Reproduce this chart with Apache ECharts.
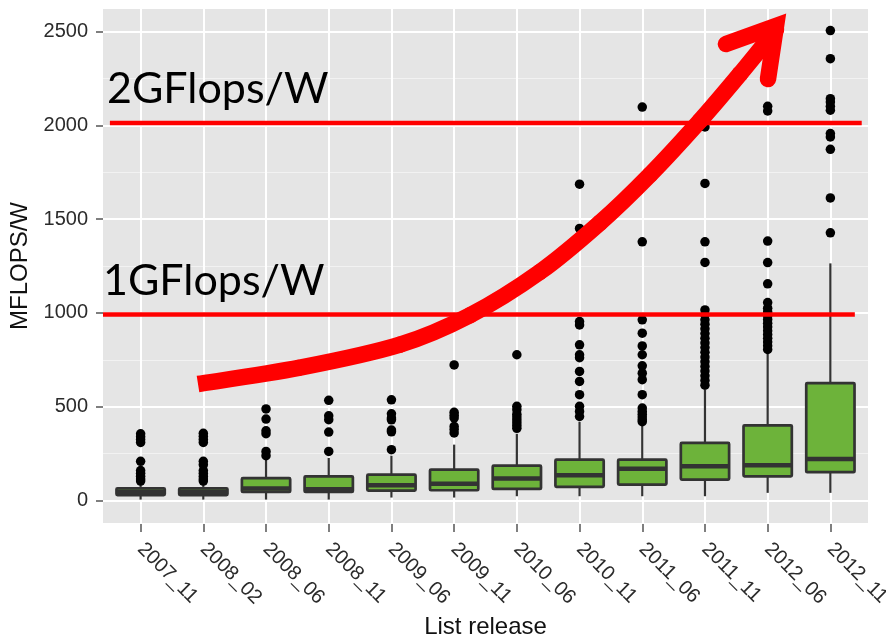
<!DOCTYPE html>
<html><head><meta charset="utf-8">
<script src="https://cdn.jsdelivr.net/npm/echarts/dist/echarts.min.js"></script>
<style>html,body{margin:0;padding:0;background:#fff}#c{width:886px;height:635px}</style>
</head><body><div id="c"></div>
<script>
// ---- data ----
const categories = ['2007_11','2008_02','2008_06','2008_11','2009_06','2009_11','2010_06','2010_11','2011_06','2011_11','2012_06','2012_11'];
const whiskerLow  = [5, 5, 5, 5, 16, 16, 23, 23, 23, 23, 41, 41];
const q1          = [29, 29, 46, 46, 53, 55, 62, 73, 85, 112, 129, 151];
const median      = [45, 45, 64, 60, 81, 90, 117, 135, 169, 183, 188, 222];
const q3          = [65, 65, 119, 129, 138, 165, 186, 218, 218, 307, 401, 626];
const whiskerHigh = [94, 94, 218, 227, 239, 298, 356, 420, 405, 590, 803, 1264];
const outliers = [
  [356, 340, 325, 310, 209, 160, 145, 130, 115, 104],
  [358, 342, 326, 310, 209, 191, 160, 145, 130, 115, 104],
  [488, 434, 372, 356, 262, 239],
  [534, 452, 431, 365, 262],
  [537, 462, 440, 430, 376, 366, 271],
  [723, 470, 455, 440, 395, 378, 360],
  [777, 502, 484, 460, 445, 430, 415, 400, 385],
  [1686, 1450, 954, 936, 830, 777, 761, 688, 635, 564, 502, 475, 448],
  [2097, 1379, 963, 892, 824, 777, 718, 679, 644, 564, 493, 475, 460, 445, 430, 420],
  [1991, 1690, 1379, 1269, 1016, 990, 963, 940, 915, 890, 865, 840, 815, 790, 765, 740, 715, 690, 665, 640, 615],
  [2101, 2076, 1383, 1268, 1155, 1055, 1025, 1005, 985, 965, 945, 925, 905, 885, 865, 845, 825, 805],
  [2505, 2355, 2142, 2124, 2101, 2080, 1956, 1938, 1872, 1613, 1427]
];
const refLineValues = [2012, 991];
const refLineLabels = ['2GFlops/W', '1GFlops/W'];
const yTickLabels = ['0', '500', '1000', '1500', '2000', '2500'];
const yTitle = 'MFLOPS/W';
const xTitle = 'List release';

// ---- layout ----
const panel = {left: 103, top: 8, width: 765, height: 516};
const unit = panel.width / 12.2;
const yMin = -125, yMax = 2625;
const refLineX = [[-0.49, 11.5], [-0.6, 11.39]];
const arrowPts = [[198,384],[300,367.7],[400,344.7],[470,315.3],[540,271.9],[600,222.7],[650,174.7],[700,120.7],[740,73.9],[776,29.6]];

const boxData = categories.map((c, i) => [i, whiskerLow[i], q1[i], median[i], q3[i], whiskerHigh[i]]);
const outlierData = [];
outliers.forEach((arr, i) => arr.forEach(v => outlierData.push([i, v])));

function renderBox(params, api) {
  const i = api.value(0);
  const lo = api.coord([i, api.value(1)]);
  const b1 = api.coord([i, api.value(2)]);
  const md = api.coord([i, api.value(3)]);
  const b3 = api.coord([i, api.value(4)]);
  const hi = api.coord([i, api.value(5)]);
  const w = unit * 0.77;
  const cx = lo[0];
  const dark = '#333333';
  return {type: 'group', children: [
    {type: 'line', shape: {x1: cx, y1: lo[1], x2: cx, y2: b1[1]}, style: {stroke: dark, lineWidth: 2.2}},
    {type: 'line', shape: {x1: cx, y1: hi[1], x2: cx, y2: b3[1]}, style: {stroke: dark, lineWidth: 2.2}},
    {type: 'rect', shape: {x: cx - w/2, y: b3[1], width: w, height: b1[1] - b3[1], r: 1}, style: {fill: '#6db33a', stroke: dark, lineWidth: 2.7}},
    {type: 'line', shape: {x1: cx - w/2, y1: md[1], x2: cx + w/2, y2: md[1]}, style: {stroke: dark, lineWidth: 4.5}}
  ]};
}

// smooth arrow shaft: Catmull-Rom converted to cubic bezier segments
const arrowSegs = [];
for (let i = 0; i < arrowPts.length - 1; i++) {
  const p0 = arrowPts[Math.max(i - 1, 0)], p1 = arrowPts[i], p2 = arrowPts[i + 1], p3 = arrowPts[Math.min(i + 2, arrowPts.length - 1)];
  arrowSegs.push({
    type: 'bezierCurve', z: 101,
    shape: {x1: p1[0], y1: p1[1], x2: p2[0], y2: p2[1],
      cpx1: p1[0] + (p2[0] - p0[0]) / 6, cpy1: p1[1] + (p2[1] - p0[1]) / 6,
      cpx2: p2[0] - (p3[0] - p1[0]) / 6, cpy2: p2[1] - (p3[1] - p1[1]) / 6},
    style: {stroke: '#ff0000', lineWidth: 16.5, fill: null, lineCap: i === 0 ? 'butt' : 'round'}
  });
}

const chart = echarts.init(document.getElementById('c'), null, {renderer: 'canvas'});
const font = '"Liberation Sans", Arial, sans-serif';
chart.setOption({
  animation: false,
  backgroundColor: '#ffffff',
  grid: [
    {left: panel.left, top: panel.top, width: panel.width, height: panel.height, show: true, backgroundColor: '#e5e5e5', borderWidth: 0, containLabel: false, outerBoundsMode: 'none'},
    {left: panel.left + 0.6 * unit, top: panel.top, width: 11 * unit, height: panel.height, show: false, containLabel: false, outerBoundsMode: 'none'}
  ],
  xAxis: [
    {type: 'value', gridIndex: 0, min: -0.6, max: 11.6, show: false, splitLine: {show: false}, axisLine: {onZero: false}},
    {type: 'category', gridIndex: 1, data: categories, boundaryGap: false, position: 'bottom',
     axisLine: {show: false, onZero: false},
     axisTick: {show: true, interval: 0, length: 8, lineStyle: {color: '#555', width: 1.5}},
     axisLabel: {interval: 0, rotate: -45, fontSize: 20, color: '#2b2b2b', fontFamily: font, margin: 22},
     splitLine: {show: true, interval: 0, lineStyle: {color: '#ffffff', width: 2}},
     name: xTitle, nameLocation: 'middle', nameGap: 87,
     nameTextStyle: {fontSize: 24, color: '#111', fontFamily: font}}
  ],
  yAxis: [
    {type: 'value', gridIndex: 0, min: yMin, max: yMax, splitNumber: 5, position: 'left',
     axisLine: {show: false, onZero: false},
     axisTick: {show: true, length: 7, lineStyle: {color: '#555', width: 1.5}},
     axisLabel: {fontSize: 20, color: '#2b2b2b', fontFamily: font, margin: 15, showMinLabel: false, showMaxLabel: false,
       formatter: v => yTickLabels[yTickLabels.indexOf(String(v))] || ''},
     splitLine: {show: true, lineStyle: {color: '#ffffff', width: 2}},
     minorTick: {show: false, splitNumber: 2},
     minorSplitLine: {show: true, lineStyle: {color: '#f2f2f2', width: 1.2}},
     name: yTitle, nameLocation: 'middle', nameGap: 61, nameRotate: 90,
     nameTextStyle: {fontSize: 24, color: '#111', fontFamily: font}},
    {type: 'value', gridIndex: 1, min: yMin, max: yMax, show: false, splitLine: {show: false}, axisLine: {onZero: false}}
  ],
  series: [
    {type: 'custom', xAxisIndex: 1, yAxisIndex: 1, data: boxData, renderItem: renderBox, z: 3,
     encode: {x: 0, y: [1, 2, 3, 4, 5]}},
    {type: 'scatter', xAxisIndex: 1, yAxisIndex: 1, data: outlierData, symbol: 'circle', symbolSize: 9.5,
     itemStyle: {color: '#000', opacity: 1}, z: 4},
    ...refLineValues.map((v, k) => ({
      type: 'line', xAxisIndex: 0, yAxisIndex: 0, z: 6, symbol: 'none', silent: true,
      data: [[refLineX[k][0], v], [refLineX[k][1], v]],
      lineStyle: {color: '#ff0000', width: 4.5}
    }))
  ],
  graphic: [
    {type: 'text', left: 107, top: 68, z: 100, style: {text: refLineLabels[0], font: '43px Lato, "Open Sans", sans-serif', fill: '#000'}},
    {type: 'text', left: 103, top: 260, z: 100, style: {text: refLineLabels[1], font: '43px Lato, "Open Sans", sans-serif', fill: '#000'}},
    ...arrowSegs,
    {type: 'polyline', z: 101, shape: {points: [[726,44],[776,26],[768,79]]},
     style: {stroke: '#ff0000', lineWidth: 16.5, fill: null, lineCap: 'round', lineJoin: 'miter', miterLimit: 10}}
  ]
});
</script>
</body></html>
